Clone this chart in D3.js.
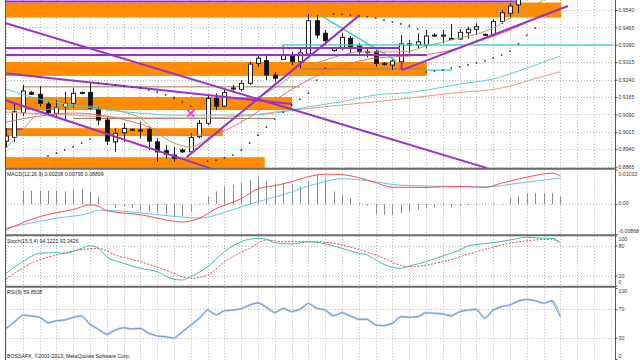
<!DOCTYPE html>
<html><head><meta charset="utf-8">
<script src="https://cdn.jsdelivr.net/npm/d3@7/dist/d3.min.js"></script>
<style>body{margin:0;background:#fff}svg{display:block}text{font-family:"Liberation Sans",Arial,sans-serif}</style>
</head><body><svg id="c" width="640" height="360"></svg>
<script>
// ---------- DATA ----------
const opens  = [0.8975,0.8991,0.9097,0.9185,0.9177,0.9135,0.9095,0.9123,0.9138,0.9185,0.9185,0.9112,0.9066,0.8972,0.9011,0.9026,0.9023,0.9026,0.8972,0.8934,0.8915,0.8937,0.8929,0.8994,0.9052,0.9159,0.9126,0.9204,0.9198,0.9224,0.9310,0.9322,0.9260,0.9327,0.9346,0.9317,0.9350,0.9494,0.9440,0.9365,0.9375,0.9418,0.9385,0.9360,0.9360,0.9310,0.9303,0.9317,0.9394,0.9389,0.9389,0.9432,0.9432,0.9418,0.9415,0.9442,0.9457,0.9435,0.9435,0.9490,0.9526,0.9562];
const highs  = [0.9031,0.9139,0.9217,0.9191,0.9212,0.9145,0.9152,0.9188,0.9204,0.9188,0.9225,0.9123,0.9080,0.9031,0.9053,0.9030,0.9059,0.9037,0.8987,0.8958,0.8951,0.8945,0.9009,0.9066,0.9174,0.9181,0.9198,0.9217,0.9238,0.9317,0.9346,0.9346,0.9274,0.9389,0.9360,0.9371,0.9523,0.9518,0.9454,0.9380,0.9440,0.9428,0.9396,0.9371,0.9368,0.9316,0.9329,0.9432,0.9411,0.9440,0.9454,0.9440,0.9454,0.9480,0.9458,0.9468,0.9483,0.9439,0.9500,0.9540,0.9569,0.9605];
const lows   = [0.8945,0.8972,0.9083,0.9174,0.9123,0.9083,0.9075,0.9066,0.9118,0.9177,0.9109,0.9044,0.8958,0.8929,0.8972,0.9020,0.8988,0.8937,0.8886,0.8901,0.8886,0.8924,0.8919,0.8987,0.9044,0.9109,0.9121,0.9188,0.9188,0.9217,0.9296,0.9238,0.9231,0.9325,0.9303,0.9289,0.9339,0.9418,0.9389,0.9360,0.9368,0.9353,0.9346,0.9336,0.9296,0.9301,0.9281,0.9310,0.9353,0.9375,0.9375,0.9425,0.9396,0.9414,0.9411,0.9418,0.9432,0.9428,0.9428,0.9480,0.9504,0.9526];
const closes = [0.8997,0.9102,0.9191,0.9177,0.9138,0.9097,0.9119,0.9138,0.9181,0.9181,0.9116,0.9066,0.8975,0.9009,0.9030,0.9023,0.9022,0.8975,0.8929,0.8919,0.8901,0.8929,0.8991,0.9052,0.9159,0.9126,0.9184,0.9203,0.9224,0.9307,0.9332,0.9260,0.9246,0.9346,0.9317,0.9356,0.9494,0.9432,0.9408,0.9375,0.9422,0.9382,0.9360,0.9359,0.9310,0.9305,0.9320,0.9394,0.9391,0.9403,0.9428,0.9430,0.9430,0.9415,0.9444,0.9457,0.9468,0.9434,0.9490,0.9528,0.9557,0.9592];

const maFastIdx = [0,2,4,6,8,10,12,14,16,18,20,22,24,26,28,30,32,34,36,38,40,42,44,46,48,50,52,54,56,58,60,62,64];
const maFast    = [0.8945,0.9023,0.9100,0.9118,0.9126,0.9126,0.9118,0.9100,0.9075,0.9010,0.8967,0.8950,0.8988,0.9044,0.9100,0.9161,0.9204,0.9256,0.9299,0.9325,0.9346,0.9359,0.9359,0.9359,0.9363,0.9385,0.9402,0.9419,0.9437,0.9462,0.9506,0.9540,0.9583];
const maMidIdx  = [0,4,8,12,16,20,24,28,32,36,40,44,48,52,56,60,64];
const maMid     = [0.9057,0.9083,0.9096,0.9083,0.9049,0.9001,0.9001,0.9057,0.9152,0.9238,0.9299,0.9333,0.9342,0.9359,0.9402,0.9454,0.9523];
const maCyanIdx = [0,4,8,12,16,20,24,28,32,36,40,44,48,50,54,58,62,64,66];
const maCyan    = [0.9200,0.9156,0.9131,0.9109,0.9096,0.9087,0.9087,0.9087,0.9096,0.9123,0.9145,0.9174,0.9185,0.9195,0.9221,0.9243,0.9290,0.9316,0.9342];
const maSlowIdx = [0,8,16,24,28,32,36,40,44,48,50,54,58,60,63,66];
const maSlow    = [0.9100,0.9087,0.9075,0.9075,0.9083,0.9100,0.9116,0.9131,0.9145,0.9160,0.9169,0.9185,0.9198,0.9212,0.9245,0.9274];

const sarIdx = [5,6,7,8,9,10,11,12,13,14,15,16,17,18,19,20,21,22,24,25,26,27,28,29,30,31,32,33,34,35,36,37,38,39,40,41,42,43,44,45,46,47,48,49,50,51,52,53,54,55,56,57,58,59,60,61,62,63];
const sarVal = [0.8911,0.8924,0.8937,0.8950,0.8967,0.8984,0.9225,0.9221,0.9217,0.9212,0.9208,0.9204,0.9195,0.9187,0.9174,0.9161,0.9144,0.9126,0.8889,0.8893,0.8902,0.8915,0.8937,0.8967,0.9001,0.9036,0.9070,0.9100,0.9131,0.9156,0.9182,0.9238,0.9290,0.9523,0.9521,0.9518,0.9514,0.9510,0.9506,0.9497,0.9488,0.9480,0.9471,0.9458,0.9273,0.9277,0.9281,0.9290,0.9294,0.9303,0.9312,0.9320,0.9333,0.9346,0.9363,0.9394,0.9432,0.9462];

const priceTicks = [0.9540,0.9465,0.9390,0.9315,0.9240,0.9165,0.9090,0.9015,0.8940,0.8865];

// drawn objects (bar index / price)
const bandStart = [-0.5,-0.5,-0.5,-0.5,-0.5];
const bandEnd   = [66.1,50.1,34.05,25.8,30.8];
const bandTop   = [0.9572,0.9316,0.9165,0.9031,0.8906];
const bandBot   = [0.9508,0.9256,0.9109,0.8997,0.8850];
const purpleSegs = [[-0.5,0.9577,60.8,0.9577],[-0.5,0.9376,46.9,0.9376],[-0.5,0.9346,50.1,0.9346],
  [-0.12,0.9484,57.3,0.8859],[-0.12,0.9268,34.05,0.9135],[-0.12,0.9152,24.3,0.8859],
  [21.5,0.8906,42.1,0.9518],[47.1,0.9281,66.9,0.9557],[47.1,0.9316,47.1,0.9281]];
const brownSegs  = [[2,0.9209,35,0.9209],[2,0.9209,2,0.9152],[8,0.9073,32,0.9073],[35,0.9286,50.1,0.9286]];
const cyanSegs   = [[33,0.9390,72.3,0.9390],[33,0.9390,33,0.9346],[37.4,0.9518,46.5,0.9320],[49.9,0.9281,53.1,0.9281]];
const redSegs    = [[-0.5,0.9027,2,0.9027]];
const crossMark  = [22,0.9095];

const macdHistIdx = d3.range(2,67);
const macdHist = [0.00393,0.00393,0.00393,0.00393,0.00393,0.00373,0.00422,0.00451,0.00355,0.00210,-0.0002,-0.00111,-0.00073,-0.00102,-0.00160,-0.00210,-0.00256,-0.00306,-0.00355,-0.00355,-0.00210,-0.0002,0.00227,0.00373,0.00518,0.00568,0.00617,0.00713,0.00780,0.00684,0.00617,0.00617,0.00588,0.00518,0.00664,0.00859,0.00763,0.00373,0.00277,0.00181,0.00044,-0.00044,-0.00285,-0.00306,-0.00306,-0.00256,-0.00210,-0.00160,-0.00093,-0.00093,-0.00044,-0.00093,-0.00044,-0.00029,-0.0001,-0.00029,0.00015,0.0001,0.00181,0.00227,0.00326,0.00326,0.00326,0.00326,0.00227];
const macdRedIdx = [0,2,4,6,8,10,11,12,16,20,21,23,25,28,30,32,34,36,38,40,42,44,46,50,54,57,59,62,65,66];
const macdRed    = [-0.00743,-0.00539,-0.00364,-0.00248,-0.0016,-0.00015,-0.00058,-0.00189,-0.00306,-0.00495,-0.00518,-0.00408,-0.00131,0.0016,0.00451,0.00539,0.00655,0.00801,0.00874,0.00859,0.00772,0.00626,0.00495,0.00489,0.00518,0.00489,0.00612,0.00786,0.00903,0.00815];
const macdCyanIdx = [0,2,6,10,11,13,17,20,23,27,30,33,37,40,43,47,53,57,61,66];
const macdCyan    = [-0.00699,-0.00597,-0.00408,-0.00256,-0.00175,-0.00189,-0.00277,-0.00355,-0.00402,-0.0016,0.00073,0.00277,0.00597,0.00743,0.00684,0.00553,0.00518,0.00501,0.00612,0.00763];

const stochMainIdx = [0,2,4,6,7,9,10,11,12,14,16,18,20,21,22,24,26,28,30,31,32,34,36,37,40,42,43,44,46,47,48,50,52,54,55,58,60,62,64,65,66];
const stochMain    = [24.4,47.6,64.4,65.6,64.4,74.4,79.6,74.4,57.6,44.4,34.4,27.6,12.4,11,17.6,37.6,67.6,87.6,94.4,92.4,85.6,83,87.6,86.4,74.4,64.4,61,51,36.4,34.4,39,47.6,59,71,79,85.6,91,96.4,94.4,94.4,85.6];
const stochSigIdx = [0,3,6,11,13,16,19,22,24,26,29,31,33,37,40,44,48,52,56,60,63,65,66];
const stochSig    = [12.4,44.4,61,74.4,61,47.6,31,14.4,21,47.6,74.4,91,87.6,87.6,81,61,37.6,47.6,67.6,84.4,91,92.4,84.4];

const rsiVal = [43.2,52.1,62,60.6,58.7,51.1,53.9,54.9,58.7,60.6,48.9,41.8,34.8,40.8,44.1,42.3,43.2,36.2,32.4,31.4,29.2,38.5,47.9,57.3,69,62,68,69,70.8,76.1,79.3,72.8,65.2,71.4,66.6,70,78.5,71.4,69,60.6,65.2,60.6,55.9,55.9,47.9,46.9,50.3,59.6,58.7,59.6,65.2,64.4,63.4,60.6,66.6,69,70,57.3,69,73.7,76.1,81.7,84.1,82.1,78.5,82.1,59.6];

const macdTicks = [0.0101,0,-0.00868];
const macdTickText = ["0.01010","0.00","-0.00868"];
const stochTicks = [100,80,20,0];
const rsiTicks = [100,70,30,0];
const labels = {macd:"MACD(12,26,9) 0.00208 0.00795 0.08899", stoch:"Stoch(15,5,4) 94.1221 93.3426", rsi:"RSI(9) 59.8508", footer:"BOSSAFX, \u00a92001-2013, MetaQuotes Software Corp."};

// ---------- LAYOUT ----------
const L = 5, R = 615;
const svg = d3.select('#c');
const x = d3.scaleLinear().domain([0,72]).range([6,610.8]);
const yP = d3.scaleLinear().domain([0.8865,0.9540]).range([166.7,10]);
const yM = d3.scaleLinear().domain([-0.00868,0.0101]).range([234,169.5]);
const yS = d3.scaleLinear().domain([0,100]).range([285.5,235.5]);
const yR = d3.scaleLinear().domain([0,100]).range([359,288]);
const panels = [{id:'pm',y0:0,y1:168},{id:'pd',y0:169.5,y1:234},{id:'ps',y0:236,y1:285.5},{id:'pr',y0:287.5,y1:360}];

const defs = svg.append('defs');
panels.forEach(p=>defs.append('clipPath').attr('id',p.id).append('rect').attr('x',L).attr('y',p.y0).attr('width',R-L).attr('height',p.y1-p.y0));

// grid
const gridC = '#b8b8b8', dash = '1,2';
const vg = svg.append('g');
panels.forEach(p=>{
  vg.append('g').selectAll('line').data(d3.range(0,73,2)).join('line')
    .attr('x1',d=>Math.round(x(d))+0.5).attr('x2',d=>Math.round(x(d))+0.5)
    .attr('y1',p.y0).attr('y2',p.y1).attr('stroke',gridC).attr('stroke-dasharray',dash);
});
function hgrid(vals, sc){
  vg.append('g').selectAll('line').data(vals).join('line')
    .attr('x1',L).attr('x2',R).attr('y1',d=>Math.round(sc(d))+0.5).attr('y2',d=>Math.round(sc(d))+0.5)
    .attr('stroke',gridC).attr('stroke-dasharray',dash);
}
hgrid(priceTicks,yP); hgrid([0],yM); hgrid([80,20],yS); hgrid([70,30],yR);

// ---------- MAIN PANEL ----------
const gm = svg.append('g').attr('clip-path','url(#pm)');
gm.selectAll('rect.band').data(d3.range(bandTop.length)).join('rect')
  .attr('x',i=>x(bandStart[i])).attr('width',i=>x(bandEnd[i])-x(bandStart[i]))
  .attr('y',i=>yP(bandTop[i])).attr('height',i=>yP(bandBot[i])-yP(bandTop[i]))
  .attr('fill','#ff8c00');

function segs(data,color,w){
  gm.append('g').selectAll('line').data(data).join('line')
    .attr('x1',d=>x(d[0])).attr('y1',d=>yP(d[1])).attr('x2',d=>x(d[2])).attr('y2',d=>yP(d[3]))
    .attr('stroke',color).attr('stroke-width',w);
}
segs(brownSegs,'#9a7b5f',1);
segs(redSegs,'#e03030',1.5);

// candles
const candles = d3.range(opens.length).map(i=>({i,o:opens[i],h:highs[i],l:lows[i],c:closes[i]}));
const cx = i=>Math.round(x(i));
gm.append('g').selectAll('line').data(candles).join('line')
  .attr('x1',d=>cx(d.i)+0.5).attr('x2',d=>cx(d.i)+0.5)
  .attr('y1',d=>yP(d.h)).attr('y2',d=>yP(d.l)).attr('stroke','#202020');
gm.append('g').selectAll('rect').data(candles).join('rect')
  .attr('x',d=>cx(d.i)-2+0.5).attr('width',4)
  .attr('y',d=>Math.min(yP(d.o),yP(d.c)))
  .attr('height',d=>Math.max(1,Math.abs(yP(d.o)-yP(d.c))))
  .attr('fill',d=>d.c>=d.o?'#fff':'#111').attr('stroke','#202020').attr('stroke-width',1);

// moving averages
function maLine(idx,vals,color,w){
  gm.append('path').datum(idx.map((b,k)=>[b,vals[k]]))
    .attr('d',d3.line().x(d=>x(d[0])).y(d=>yP(d[1])).curve(d3.curveMonotoneX))
    .attr('fill','none').attr('stroke',color).attr('stroke-width',w);
}
maLine(maSlowIdx,maSlow,'#e9967a',1);
maLine(maCyanIdx,maCyan,'#5fcfd0',1);
maLine(maMidIdx,maMid,'#f06a6a',1);
maLine(maFastIdx,maFast,'#a9a46a',1);

segs(cyanSegs,'#44c8c8',1.3);
segs(purpleSegs,'#9932cc',2);

// SAR dots
gm.append('g').selectAll('circle').data(sarIdx.map((b,k)=>[b,sarVal[k]])).join('circle')
  .attr('cx',d=>x(d[0])).attr('cy',d=>yP(d[1])).attr('r',0.9).attr('fill','#303070');

// cross marker
const mx = x(crossMark[0]), my = yP(crossMark[1]);
gm.append('path').attr('d',`M${mx-3.5},${my-3.5}L${mx+3.5},${my+3.5}M${mx+3.5},${my-3.5}L${mx-3.5},${my+3.5}`)
  .attr('stroke','#ff33cc').attr('stroke-width',1.8);

// ---------- MACD ----------
const gd = svg.append('g').attr('clip-path','url(#pd)');
gd.append('g').selectAll('line').data(macdHistIdx.map((b,k)=>[b,macdHist[k]])).join('line')
  .attr('x1',d=>cx(d[0])+0.5).attr('x2',d=>cx(d[0])+0.5)
  .attr('y1',yM(0)).attr('y2',d=>yM(d[1])).attr('stroke','#8a8a8a');
function pline(g,idx,vals,sc,color,w,da){
  const p = g.append('path').datum(idx.map((b,k)=>[b,vals[k]]))
    .attr('d',d3.line().x(d=>x(d[0])).y(d=>sc(d[1])).curve(d3.curveMonotoneX))
    .attr('fill','none').attr('stroke',color).attr('stroke-width',w);
  if(da) p.attr('stroke-dasharray',da);
}
pline(gd,macdCyanIdx,macdCyan,yM,'#62c4ea',1);
pline(gd,macdRedIdx,macdRed,yM,'#f05050',1);

// ---------- STOCH ----------
const gs = svg.append('g').attr('clip-path','url(#ps)');
pline(gs,stochSigIdx,stochSig,yS,'#e04848',1,'2,1.5');
pline(gs,stochMainIdx,stochMain,yS,'#3cbcb0',1);

// ---------- RSI ----------
const gr = svg.append('g').attr('clip-path','url(#pr)');
pline(gr,d3.range(rsiVal.length),rsiVal,yR,'#b9d3ef',2.2);
gr.append('path').datum(rsiVal.map((v,i)=>[i,v]))
  .attr('d',d3.line().x(d=>x(d[0])).y(d=>yR(d[1])))
  .attr('fill','none').attr('stroke','#6a9bd4').attr('stroke-width',1);

// ---------- FRAME ----------
const fr = svg.append('g');
fr.append('line').attr('x1',L+0.5).attr('x2',L+0.5).attr('y1',0).attr('y2',360).attr('stroke','#555');
fr.append('line').attr('x1',R+0.5).attr('x2',R+0.5).attr('y1',0).attr('y2',360).attr('stroke','#555');
fr.selectAll('line.sep').data([168.8,235.2,286.7]).join('line')
  .attr('x1',L).attr('x2',R+1).attr('y1',d=>d).attr('y2',d=>d)
  .attr('stroke','#6a6a6a').attr('stroke-width',2);

// ---------- AXES ----------
const fs = 5.2;
function axis(sc,vals,fmt,shifts){
  const a = svg.append('g').attr('transform',`translate(${R+0.5},0)`)
    .call(d3.axisRight(sc).tickValues(vals).tickSize(2).tickPadding(1).tickFormat(fmt));
  a.select('.domain').remove();
  a.selectAll('line').attr('stroke','#555');
  a.selectAll('text').attr('font-size',fs).attr('fill','#333').attr('font-family','"Liberation Sans",Arial,sans-serif')
    .attr('dy',(d,i)=>(0.32+ (shifts?shifts[i]:0)/fs)+'em');
}
axis(yP,priceTicks,d3.format('.4f'));
axis(yM,macdTicks,(d,i)=>macdTickText[i],[4.5,-1.5,-3]);
axis(yS,stochTicks,d=>d,[3.8,0,0,-3.8]);
axis(yR,rsiTicks,d=>d,[3,0,0,-3]);

// ---------- LABELS ----------
const lt = svg.append('g').attr('font-size',fs).attr('fill','#222');
lt.append('text').attr('x',7).attr('y',176).text(labels.macd);
lt.append('text').attr('x',7).attr('y',243).text(labels.stoch);
lt.append('text').attr('x',7).attr('y',294).text(labels.rsi);
lt.append('text').attr('x',7).attr('y',358).text(labels.footer);
</script></body></html>
